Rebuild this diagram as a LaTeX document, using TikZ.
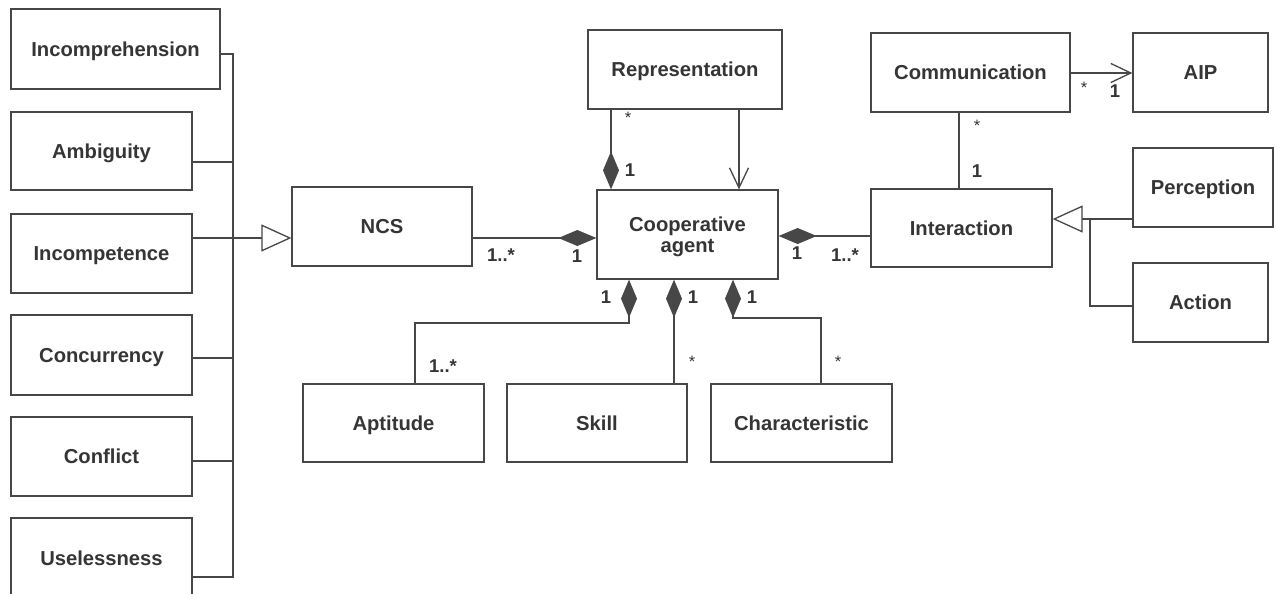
\documentclass[tikz,border=0pt]{standalone}
\usepackage{fontspec}
\setmainfont{Liberation Sans}
\usetikzlibrary{arrows.meta}
\definecolor{lc}{HTML}{474747}
\definecolor{tc}{HTML}{353535}
\begin{document}
\begin{tikzpicture}[x=1pt,y=-1pt,
 box/.style={draw=lc, line width=1.3pt, fill=white, inner sep=0pt, align=center, text=tc, text depth=0pt, font=\fontsize{20.2}{20.5}\selectfont\bfseries},
 conn/.style={draw=lc, line width=1.3pt},
 comp/.style={conn, -{Diamond[length=38pt,width=16pt,fill=lc]}},
 gen/.style={conn, -{Triangle[open, length=30pt, width=27pt, fill=white]}},
 nav/.style={conn, -{Straight Barb[length=20pt,width=19pt]}},
 mult/.style={text=tc, font=\fontsize{18.5}{19}\selectfont\bfseries, inner sep=0pt},
 star/.style={text=tc, font=\fontsize{16.5}{18}\selectfont, inner sep=0pt}]
\fill[white] (0,0) rectangle (1277,594);
\useasboundingbox (0,0) rectangle (1277,594);
\clip (0,0) rectangle (1277,594);

% left column
\node[box, minimum width=209pt, minimum height=80pt] (inc) at (115.5,49) {Incomprehension};
\node[box, minimum width=181pt, minimum height=78pt] (amb) at (101.5,151) {Ambiguity};
\node[box, minimum width=181pt, minimum height=79pt] (incp) at (101.5,253.5) {Incompetence};
\node[box, minimum width=181pt, minimum height=80pt] (conc) at (101.5,355) {Concurrency};
\node[box, minimum width=181pt, minimum height=79pt] (conf) at (101.5,456.5) {Conflict};
\node[box, minimum width=181pt, minimum height=80pt] (usel) at (101.5,558) {Uselessness};

% centre
\node[box, minimum width=180pt, minimum height=79pt] (ncs) at (382,226.5) {NCS};
\node[box, minimum width=181pt, minimum height=89pt] (coop) at (687.5,234.5) {Cooperative\\agent};
\node[box, minimum width=194pt, minimum height=79pt] (rep) at (685,69.5) {Representation};
\node[box, minimum width=181pt, minimum height=78pt] (apt) at (393.5,423) {Aptitude};
\node[box, minimum width=180pt, minimum height=78pt] (skill) at (597,423) {Skill};
\node[box, minimum width=181pt, minimum height=78pt] (char) at (801.5,423) {Characteristic};

% right
\node[box, minimum width=199pt, minimum height=79pt] (comm) at (970.5,72.5) {Communication};
\node[box, minimum width=135pt, minimum height=79pt] (aip) at (1200.5,72.5) {AIP};
\node[box, minimum width=181pt, minimum height=78pt] (inter) at (961.5,228) {Interaction};
\node[box, minimum width=140pt, minimum height=79pt] (perc) at (1203,187.5) {Perception};
\node[box, minimum width=135pt, minimum height=79pt] (act) at (1200.5,302.5) {Action};

% helper coordinates
\coordinate (bx) at (233,0);
\coordinate (y1) at (0,54);
\coordinate (y2) at (0,162);
\coordinate (y3) at (0,238);
\coordinate (y4) at (0,358);
\coordinate (y5) at (0,461);
\coordinate (y6) at (0,577);
\coordinate (xrep1) at (611,0);
\coordinate (xrep2) at (739,0);
\coordinate (yci) at (0,236);
\coordinate (yca) at (0,73);
\coordinate (xci) at (959,0);
\coordinate (ygen) at (0,219);
\coordinate (yact) at (0,306);
\coordinate (xgen) at (1090,0);
\coordinate (xa) at (415,0);
\coordinate (xd1) at (629,0);
\coordinate (ya) at (0,323);
\coordinate (xd2) at (674,0);
\coordinate (xd3) at (733,0);
\coordinate (xc) at (821,0);
\coordinate (yc) at (0,318);

% generalisation bus (left)
\draw[conn] (inc.east |- y1) -- (bx |- y1) -- (bx |- y6) -- (usel.east |- y6);
\draw[conn] (amb.east |- y2) -- (bx |- y2);
\draw[conn] (conc.east |- y4) -- (bx |- y4);
\draw[conn] (conf.east |- y5) -- (bx |- y5);
\draw[gen] (incp.east |- y3) -- (ncs.west |- y3);

% compositions into cooperative agent
\draw[comp] (ncs.east |- y3) -- (coop.west |- y3);
\draw[comp] (inter.west |- yci) -- (coop.east |- yci);
\draw[comp] (rep.south -| xrep1) -- (coop.north -| xrep1);
\draw[nav] (rep.south -| xrep2) -- (coop.north -| xrep2);
\draw[comp] (apt.north -| xa) -- (xa |- ya) -- (xd1 |- ya) -- (coop.south -| xd1);
\draw[comp] (skill.north -| xd2) -- (coop.south -| xd2);
\draw[comp] (char.north -| xc) -- (xc |- yc) -- (xd3 |- yc) -- (coop.south -| xd3);

% right side
\draw[nav] (comm.east |- yca) -- (aip.west |- yca);
\draw[conn] (comm.south -| xci) -- (inter.north -| xci);
\draw[gen] (perc.west |- ygen) -- (inter.east |- ygen);
\draw[conn] (act.west |- yact) -- (xgen |- yact) -- (xgen |- ygen);

% multiplicities
\node[mult] (m1) at (501,255) {1..*};
\node[mult] (m2) at (577,256) {1};
\node[star] (m3) at (628,118) {*};
\node[mult] (m4) at (630,170) {1};
\node[mult] (m5) at (797,253) {1};
\node[mult] (m6) at (845,255) {1..*};
\node[star] (m7) at (977,126) {*};
\node[mult] (m8) at (977,171) {1};
\node[star] (m9) at (1084,88) {*};
\node[mult] (m10) at (1115,91) {1};
\node[mult] (m11) at (606,297) {1};
\node[mult] (m12) at (693,297) {1};
\node[mult] (m13) at (752,297) {1};
\node[mult] (m14) at (443,366) {1..*};
\node[star] (m15) at (692,362) {*};
\node[star] (m16) at (838,362) {*};
\end{tikzpicture}
\end{document}
